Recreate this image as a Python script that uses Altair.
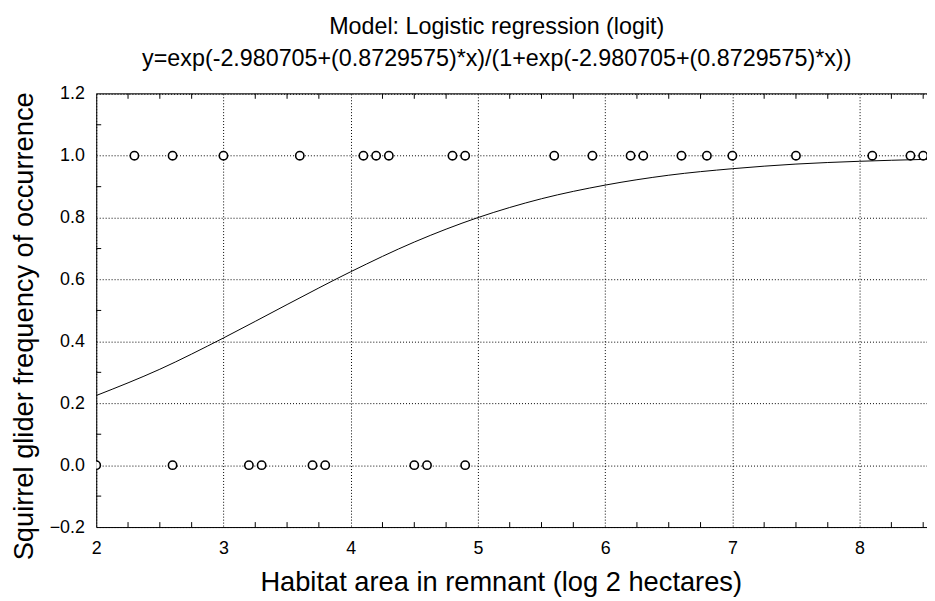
import altair as alt
import pandas as pd

# ---- data ----
present_x = [2.3, 2.6, 3.0, 3.6, 4.1, 4.2, 4.3, 4.8, 4.9, 5.6, 5.9, 6.2, 6.3,
             6.6, 6.8, 7.0, 7.5, 8.1, 8.4, 8.5]
absent_x = [2.0, 2.6, 3.2, 3.3, 3.7, 3.8, 4.5, 4.6, 4.9]

curve_x = [2.0, 2.5, 3.0, 3.5, 4.0, 4.5, 5.0, 5.5, 6.0, 6.5, 7.0, 7.5, 8.0, 8.5, 8.6]
curve_y = [0.225, 0.310, 0.411, 0.519, 0.625, 0.721, 0.800, 0.861, 0.905, 0.937,
           0.958, 0.973, 0.982, 0.988, 0.989]

x_ticks = [2, 3, 4, 5, 6, 7, 8]
y_ticks = [-0.2, 0.0, 0.2, 0.4, 0.6, 0.8, 1.0, 1.2]
x_minor = [2.25, 2.5, 2.75, 3.25, 3.5, 3.75, 4.25, 4.5, 4.75, 5.25, 5.5, 5.75,
           6.25, 6.5, 6.75, 7.25, 7.5, 7.75, 8.25, 8.5]
y_minor = [-0.1, 0.1, 0.3, 0.5, 0.7, 0.9, 1.1]

title_lines = ["Model: Logistic regression (logit)",
               "y=exp(-2.980705+(0.8729575)*x)/(1+exp(-2.980705+(0.8729575)*x))"]
x_title = "Habitat area in remnant (log 2 hectares)"
y_title = "Squirrel glider frequency of occurrence"

W, H = 838, 437
FONT = "Liberation Sans"

pts = pd.DataFrame({
    "x": present_x + absent_x,
    "y": [1.0] * len(present_x) + [0.0] * len(absent_x),
})
curve = pd.DataFrame({"x": curve_x, "y": curve_y})
xm = pd.DataFrame({"x": x_minor})
ym = pd.DataFrame({"y": y_minor})

xs = alt.Scale(domain=[2, 8.53], nice=False, zero=False)
ys = alt.Scale(domain=[-0.2, 1.2], nice=False, zero=False)

x_axis = alt.Axis(
    values=x_ticks, format="d", title=x_title, grid=True,
    gridDash=[1, 2], gridColor="black", gridOpacity=1, gridWidth=1,
    ticks=False, domain=True, domainColor="black", domainWidth=1,
    labelFont=FONT, labelFontSize=18, labelColor="black", labelPadding=13,
    labelFlush=False,
    titleFont=FONT, titleFontSize=27.5, titleFontWeight="normal", titleColor="black",
    titleX=408, titleY=64, titleAlign="center", titleBaseline="alphabetic")
y_axis = alt.Axis(
    values=y_ticks, format=".1f", title=y_title, grid=True,
    gridDash=[1, 2], gridColor="black", gridOpacity=1, gridWidth=1,
    ticks=False, domain=True, domainColor="black", domainWidth=1,
    labelFont=FONT, labelFontSize=18, labelColor="black", labelPadding=12,
    labelFlush=False,
    titleFont=FONT, titleFontSize=27.5, titleFontWeight="normal", titleColor="black",
    titleX=-64, titleY=234, titleAlign="center", titleBaseline="alphabetic",
    titleAngle=270)

X = alt.X("x:Q", scale=xs, axis=x_axis)
Y = alt.Y("y:Q", scale=ys, axis=y_axis)

line_layer = alt.Chart(curve).mark_line(
    color="black", strokeWidth=1, clip=True, interpolate="monotone").encode(x=X, y=Y)

point_layer = alt.Chart(pts).mark_point(
    shape="circle", filled=False, fill="white", fillOpacity=1, stroke="black",
    strokeWidth=1.6, size=70, opacity=1, clip=True).encode(x=X, y=Y)

top_border = alt.Chart(pd.DataFrame({"y": [1.2]})).mark_rule(
    color="black", strokeWidth=1).encode(y=Y, x=alt.value(0), x2=alt.value(W))

x_minor_bottom = alt.Chart(xm).mark_rule(color="black", strokeWidth=1).encode(
    x=X, y=alt.value(H), y2=alt.value(H - 5))
x_minor_top = alt.Chart(xm).mark_rule(color="black", strokeWidth=1).encode(
    x=X, y=alt.value(0), y2=alt.value(5))
y_minor_left = alt.Chart(ym).mark_rule(color="black", strokeWidth=1).encode(
    y=Y, x=alt.value(0), x2=alt.value(5))

chart = alt.layer(
    line_layer, top_border, x_minor_bottom, x_minor_top, y_minor_left, point_layer,
).properties(
    width=W, height=H,
    title=alt.TitleParams(text=title_lines, font=FONT, fontSize=23.5,
                          fontWeight="normal", color="black", anchor="middle",
                          offset=15, lineHeight=32, dx=-15),
    autosize=alt.AutoSizeParams(type="none"),
    padding={"left": 89, "top": 84, "right": 0, "bottom": 70},
).configure_view(stroke=None).configure(background="white")

chart.save("out.html", embed_options={"renderer": "svg", "actions": False})
